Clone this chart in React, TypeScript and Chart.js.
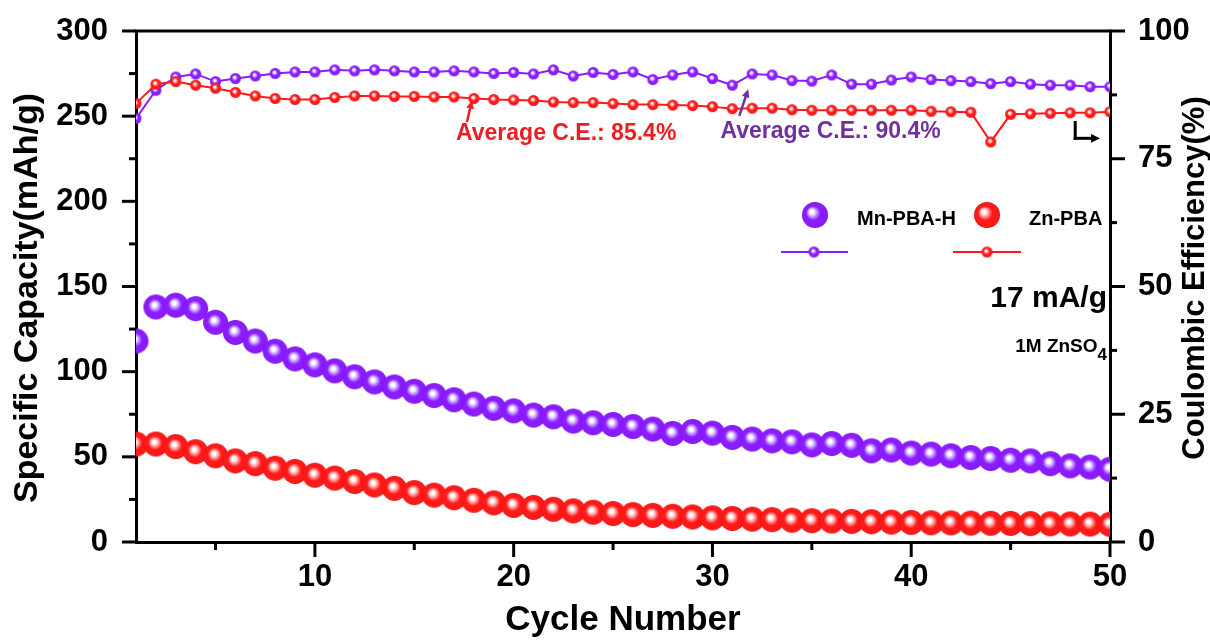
import React, { useEffect, useRef } from 'react';
import { Chart, registerables } from 'chart.js';

Chart.register(...registerables);

// Cycle index shared by all four series
const cycles = [
  1, 2, 3, 4, 5, 6, 7, 8, 9, 10, 11, 12, 13, 14, 15, 16, 17, 18, 19, 20, 21, 22, 23, 24, 25,
  26, 27, 28, 29, 30, 31, 32, 33, 34, 35, 36, 37, 38, 39, 40, 41, 42, 43, 44, 45, 46, 47, 48, 49, 50,
];

// Specific capacity (mAh/g)
const mnCapacity = [
  118, 138, 139, 137, 129, 123, 118, 112, 107.5, 104, 100.5, 97, 94, 91, 88.5, 86, 83.5, 81, 78.5, 77,
  74.5, 73.5, 71, 70, 69, 67.8, 66.3, 63.7, 64.9, 63.9, 61.4, 60.4, 59.4, 58.8, 57, 57.8, 56.8, 53.5,
  54, 52.2, 51.6, 50.6, 49.6, 49, 48, 47.6, 46, 44.7, 44, 42.7,
];
const znCapacity = [
  57.5, 57.5, 56, 53, 50.6, 47.6, 46, 43.3, 41.4, 39.2, 37.5, 35.5, 33.5, 31.5, 29, 27.5, 26, 24.5, 23,
  21.5, 20.3, 19.2, 18.3, 17.5, 16.7, 16.1, 15.6, 15.1, 14.7, 14.2, 13.8, 13.4, 13.1, 12.8, 12.5, 12.3,
  12.1, 11.9, 11.7, 11.5, 11.3, 11.2, 11.1, 11, 10.9, 10.8, 10.7, 10.6, 10.5, 10.4,
];

// Coulombic efficiency (%)
const mnEfficiency = [
  82.9, 88.4, 91, 91.6, 90.1, 90.7, 91.2, 91.7, 92, 92, 92.4, 92.2, 92.4, 92.2, 92, 92, 92.2, 92, 91.7,
  91.9, 91.6, 92.4, 91.2, 91.9, 91.5, 92, 90.5, 91.4, 92, 90.7, 89.4, 91.6, 91.4, 90.3, 90.2, 91.4, 89.6,
  89.6, 90.4, 91, 90.5, 90.3, 90.1, 89.7, 90.1, 89.6, 89.4, 89.4, 89.1, 89.1,
];
const znEfficiency = [
  85.8, 89.6, 90.1, 89.4, 88.8, 88, 87.3, 86.8, 86.6, 86.6, 87, 87.3, 87.3, 87.2, 87.2, 87.1, 87.1, 86.8,
  86.6, 86.5, 86.4, 86.1, 86, 86, 85.8, 85.6, 85.6, 85.5, 85.4, 85.2, 84.8, 84.9, 84.9, 84.6, 84.5, 84.5,
  84.5, 84.5, 84.5, 84.5, 84.3, 84.2, 84.1, 78.3, 83.7, 83.8, 83.9, 84, 84, 84.2,
];

// Axis ticks
const xMajorTicks = [10, 20, 30, 40, 50];
const xMinorTicks = [5, 15, 25, 35, 45];
const capMajorTicks = [0, 50, 100, 150, 200, 250, 300];
const capMinorTicks = [25, 75, 125, 175, 225, 275];
const ceMajorTicks = [0, 25, 50, 75, 100];
const ceMinorTicks = [12.5, 37.5, 62.5, 87.5];

const seriesNames = ['Mn-PBA-H', 'Zn-PBA'];
const avgLabels = ['Average C.E.: 85.4%', 'Average C.E.: 90.4%'];

const FONT = "'Liberation Sans', Arial, Helvetica, sans-serif";
const PURPLE = '#8a1cff';
const RED = '#ff1a1a';
const PURPLE_TEXT = '#7030a0';
const RED_TEXT = '#ee1d23';

function makeSphere(r: number, base: string, light: string, edge: string, hx: number, hy: number) {
  const size = Math.ceil(r * 2) + 2;
  const c = document.createElement('canvas');
  c.width = size;
  c.height = size;
  const g = c.getContext('2d')!;
  const cx = size / 2;
  const cy = size / 2;
  const grad = g.createRadialGradient(cx + hx * r, cy + hy * r, 0, cx, cy, r);
  grad.addColorStop(0, '#ffffff');
  grad.addColorStop(0.14, '#ffffff');
  grad.addColorStop(0.32, light);
  grad.addColorStop(0.55, base);
  grad.addColorStop(0.9, base);
  grad.addColorStop(1, edge);
  g.fillStyle = grad;
  g.beginPath();
  g.arc(cx, cy, r, 0, Math.PI * 2);
  g.fill();
  return c;
}

function drawArrow(ctx: CanvasRenderingContext2D, x1: number, y1: number, x2: number, y2: number, color: string, w: number, head: number) {
  const ang = Math.atan2(y2 - y1, x2 - x1);
  ctx.save();
  ctx.strokeStyle = color;
  ctx.fillStyle = color;
  ctx.lineWidth = w;
  ctx.beginPath();
  ctx.moveTo(x1, y1);
  ctx.lineTo(x2 - Math.cos(ang) * head * 0.7, y2 - Math.sin(ang) * head * 0.7);
  ctx.stroke();
  ctx.beginPath();
  ctx.moveTo(x2, y2);
  ctx.lineTo(x2 - head * Math.cos(ang - 0.45), y2 - head * Math.sin(ang - 0.45));
  ctx.lineTo(x2 - head * Math.cos(ang + 0.45), y2 - head * Math.sin(ang + 0.45));
  ctx.closePath();
  ctx.fill();
  ctx.restore();
}

// Hidden tick marks reserve the gap between axis line and labels (visible ticks are drawn separately)
const hiddenTicks = (len: number) => ({
  display: true,
  drawOnChartArea: false,
  drawTicks: true,
  tickLength: len,
  tickColor: 'rgba(0,0,0,0)',
});

export default function App() {
  const ref = useRef<HTMLCanvasElement | null>(null);

  useEffect(() => {
    const canvas = ref.current;
    if (!canvas) return;

    const bigPurple = makeSphere(12.5, PURPLE, '#c9a2ff', '#7a12e6', -0.15, -0.2);
    const bigRed = makeSphere(12.5, RED, '#ffa0a0', '#e01010', -0.15, -0.2);
    const smallPurple = makeSphere(5.5, PURPLE, '#c9a2ff', '#7a12e6', -0.2, -0.25);
    const smallRed = makeSphere(5.5, RED, '#ffa0a0', '#e01010', -0.2, -0.25);
    const legendPurple = makeSphere(13, PURPLE, '#c9a2ff', '#7a12e6', -0.3, -0.3);
    const legendRed = makeSphere(13, RED, '#ffa0a0', '#e01010', -0.3, -0.3);

    const decorations = {
      id: 'decorations',
      afterDraw(chart: any) {
        const ctx: CanvasRenderingContext2D = chart.ctx;
        const { left, right, top, bottom } = chart.chartArea;
        const xs = chart.scales.x;
        const ys = chart.scales.y;
        const ys2 = chart.scales.y2;
        ctx.save();
        ctx.strokeStyle = '#000';
        ctx.lineCap = 'butt';

        // top frame line
        ctx.lineWidth = 3;
        ctx.beginPath();
        ctx.moveTo(left - 1.5, top);
        ctx.lineTo(right + 1.5, top);
        ctx.stroke();

        const tick = (x1: number, y1: number, x2: number, y2: number, w: number) => {
          ctx.lineWidth = w;
          ctx.beginPath();
          ctx.moveTo(x1, y1);
          ctx.lineTo(x2, y2);
          ctx.stroke();
        };
        capMajorTicks.forEach((v) => { const p = ys.getPixelForValue(v); tick(left - 14, p, left, p, 3); });
        capMinorTicks.forEach((v) => { const p = ys.getPixelForValue(v); tick(left - 7, p, left, p, 3); });
        ceMajorTicks.forEach((v) => { const p = ys2.getPixelForValue(v); tick(right, p, right + 15, p, 3); });
        ceMinorTicks.forEach((v) => { const p = ys2.getPixelForValue(v); tick(right, p, right + 7, p, 3); });
        xMajorTicks.forEach((v) => { const p = xs.getPixelForValue(v); tick(p, bottom, p, bottom + 15, 3); });
        xMinorTicks.forEach((v) => { const p = xs.getPixelForValue(v); tick(p, bottom, p, bottom + 8, 3); });

        // vertical axis titles
        ctx.fillStyle = '#000';
        ctx.textAlign = 'center';
        ctx.textBaseline = 'middle';
        ctx.font = `bold 34px ${FONT}`;
        ctx.save();
        ctx.translate(28, 298);
        ctx.rotate(-Math.PI / 2);
        ctx.fillText('Specific Capacity(mAh/g)', 0, 0);
        ctx.restore();
        ctx.font = `bold 31px ${FONT}`;
        ctx.save();
        ctx.translate(1195, 278);
        ctx.rotate(-Math.PI / 2);
        ctx.fillText('Coulombic Efficiency(%)', 0, 0);
        ctx.restore();

        // average efficiency annotations
        ctx.textAlign = 'left';
        ctx.textBaseline = 'alphabetic';
        ctx.font = `bold 23px ${FONT}`;
        ctx.fillStyle = RED_TEXT;
        ctx.fillText(avgLabels[0], xs.getPixelForValue(17.1), ys2.getPixelForValue(78.7));
        ctx.fillStyle = PURPLE_TEXT;
        ctx.fillText(avgLabels[1], xs.getPixelForValue(30.4), ys2.getPixelForValue(79.0));
        drawArrow(ctx, xs.getPixelForValue(17.65), ys2.getPixelForValue(82.2), xs.getPixelForValue(17.9), ys2.getPixelForValue(86.4), RED_TEXT, 2.5, 9);
        drawArrow(ctx, xs.getPixelForValue(31.35), ys2.getPixelForValue(83.4), xs.getPixelForValue(31.8), ys2.getPixelForValue(88.6), PURPLE_TEXT, 2.5, 9);

        // elbow arrow toward the efficiency axis
        const ex = xs.getPixelForValue(48.25);
        const ey1 = ys2.getPixelForValue(82.4);
        const ey2 = ys2.getPixelForValue(79.0);
        ctx.strokeStyle = '#000';
        ctx.lineWidth = 3;
        ctx.beginPath();
        ctx.moveTo(ex, ey1);
        ctx.lineTo(ex, ey2);
        ctx.lineTo(ex + 1.5, ey2);
        ctx.stroke();
        drawArrow(ctx, ex - 1.5, ey2, xs.getPixelForValue(49.5), ey2, '#000', 3, 10);

        // legend
        ctx.drawImage(legendPurple, 815 - legendPurple.width / 2, 215 - legendPurple.height / 2);
        ctx.drawImage(legendRed, 987 - legendRed.width / 2, 215 - legendRed.height / 2);
        ctx.fillStyle = '#000';
        ctx.font = `bold 20px ${FONT}`;
        ctx.fillText(seriesNames[0], 857, 225);
        ctx.fillText(seriesNames[1], 1029, 225);
        ctx.lineWidth = 2;
        ctx.strokeStyle = PURPLE;
        ctx.beginPath();
        ctx.moveTo(781, 252);
        ctx.lineTo(848, 252);
        ctx.stroke();
        ctx.strokeStyle = RED;
        ctx.beginPath();
        ctx.moveTo(953, 252);
        ctx.lineTo(1021, 252);
        ctx.stroke();
        ctx.drawImage(smallPurple, 814 - smallPurple.width / 2, 252 - smallPurple.height / 2);
        ctx.drawImage(smallRed, 987 - smallRed.width / 2, 252 - smallRed.height / 2);

        // test conditions
        ctx.textAlign = 'right';
        ctx.font = `bold 30px ${FONT}`;
        ctx.fillText('17 mA/g', 1107, 307);
        ctx.font = `bold 17px ${FONT}`;
        const subW = ctx.measureText('4').width;
        ctx.fillText('4', 1107, 360);
        ctx.font = `bold 19px ${FONT}`;
        ctx.fillText('1M ZnSO', 1107 - subW, 352);

        ctx.restore();
      },
    };

    const tickFont = { family: FONT, size: 31, weight: 'bold' as const };

    const chart = new Chart(canvas, {
      type: 'line',
      data: {
        datasets: [
          {
            label: 'Mn-PBA-H CE',
            data: cycles.map((c, i) => ({ x: c, y: mnEfficiency[i] })),
            yAxisID: 'y2',
            borderColor: PURPLE,
            borderWidth: 2,
            pointStyle: smallPurple as any,
            pointRadius: 5.5,
            clip: 0,
            order: 2,
          },
          {
            label: 'Zn-PBA CE',
            data: cycles.map((c, i) => ({ x: c, y: znEfficiency[i] })),
            yAxisID: 'y2',
            borderColor: RED,
            borderWidth: 2,
            pointStyle: smallRed as any,
            pointRadius: 5.5,
            clip: 0,
            order: 1,
          },
          {
            label: 'Mn-PBA-H',
            data: cycles.map((c, i) => ({ x: c, y: mnCapacity[i] })),
            yAxisID: 'y',
            showLine: false,
            pointStyle: bigPurple as any,
            pointRadius: 12,
            clip: 0,
            order: 3,
          },
          {
            label: 'Zn-PBA',
            data: cycles.map((c, i) => ({ x: c, y: znCapacity[i] })),
            yAxisID: 'y',
            showLine: false,
            pointStyle: bigRed as any,
            pointRadius: 12,
            clip: 0,
            order: 4,
          },
        ],
      },
      options: {
        responsive: false,
        animation: false,
        devicePixelRatio: 1,
        events: [],
        layout: { padding: { top: 31, left: 0, right: 0, bottom: 0 } },
        plugins: { legend: { display: false }, tooltip: { enabled: false } },
        scales: {
          x: {
            type: 'linear',
            min: 1,
            max: 50,
            z: 1,
            afterFit: (s: any) => { s.height = 98; },
            afterBuildTicks: (s: any) => { s.ticks = xMajorTicks.map((v) => ({ value: v })); },
            grid: hiddenTicks(17),
            border: { display: true, width: 3, color: '#000' },
            ticks: { font: tickFont, color: '#000', padding: 0, maxRotation: 0, autoSkip: false },
            title: {
              display: true,
              text: 'Cycle Number',
              color: '#000',
              font: { family: FONT, size: 35, weight: 'bold', lineHeight: 1 },
              padding: { top: 0, bottom: 2 },
            },
          },
          y: {
            type: 'linear',
            position: 'left',
            min: 0,
            max: 300,
            z: 1,
            afterFit: (s: any) => { s.width = 136; },
            afterBuildTicks: (s: any) => { s.ticks = capMajorTicks.map((v) => ({ value: v })); },
            grid: hiddenTicks(28),
            border: { display: true, width: 3, color: '#000' },
            ticks: { font: tickFont, color: '#000', padding: 0 },
          },
          y2: {
            type: 'linear',
            position: 'right',
            min: 0,
            max: 100,
            z: 1,
            afterFit: (s: any) => { s.width = 100; },
            afterBuildTicks: (s: any) => { s.ticks = ceMajorTicks.map((v) => ({ value: v })); },
            grid: hiddenTicks(28),
            border: { display: true, width: 3, color: '#000' },
            ticks: { font: tickFont, color: '#000', padding: 0 },
          },
        },
      },
      plugins: [decorations],
    });

    return () => chart.destroy();
  }, []);

  return (
    <div style={{ position: 'fixed', left: 0, top: 0, width: 1210, height: 640, background: '#fff' }}>
      <canvas ref={ref} width={1210} height={640} style={{ display: 'block', width: 1210, height: 640 }} />
    </div>
  );
}
